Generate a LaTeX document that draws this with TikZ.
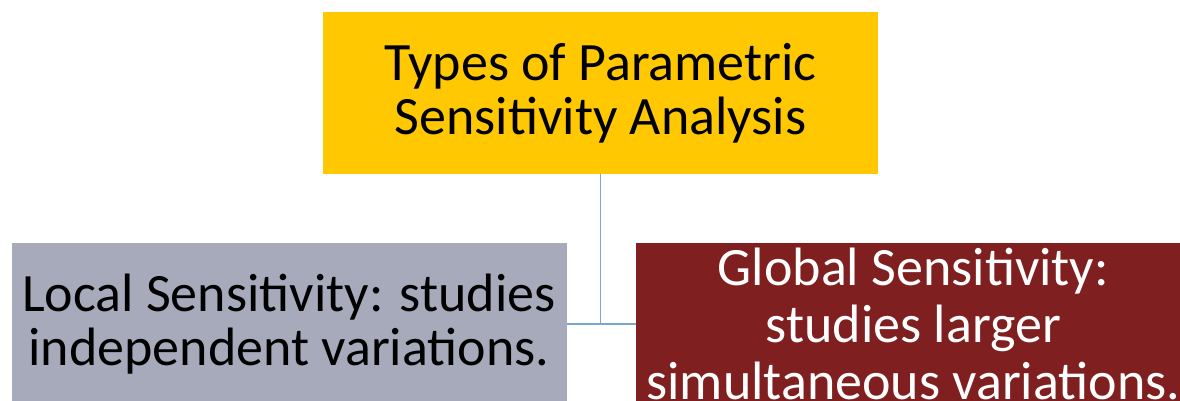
\documentclass[tikz,border=0pt]{standalone}
\usepackage{fontspec}
\setmainfont{Carlito}
\usetikzlibrary{positioning}

\definecolor{typesyellow}{RGB}{255,200,0}
\definecolor{localgray}{RGB}{167,170,187}
\definecolor{globalred}{RGB}{127,31,31}
\definecolor{linkblue}{RGB}{124,166,204}

\begin{document}
\begin{tikzpicture}[
      x=1pt, y=-1pt,
      box/.style={minimum width=555pt, minimum height=162pt, inner sep=0pt,
        align=center, font=\fontsize{54}{54}\selectfont},
      link/.style={draw=linkblue, line width=1.5pt}
    ]
    \useasboundingbox (0,0) rectangle (1180,400);
    \clip (0,0) rectangle (1180,400);
    \node[box, fill=typesyellow] (types) at (600.5,93) {Types of Parametric\\Sensitivity Analysis};
    \node[box, fill=localgray] (local) at (289,324) {Local Sensitivity: studies\\independent variations.};
    \node[box, fill=globalred, text=white, font=\fontsize{54}{57}\selectfont,
      right=69pt of local] (global) {Global Sensitivity:\\studies larger\\simultaneous variations.};
    \draw[link] (types.south) -- (types.south |- local.east);
    \draw[link] (local.east) -- (global.west);
\end{tikzpicture}
\end{document}
